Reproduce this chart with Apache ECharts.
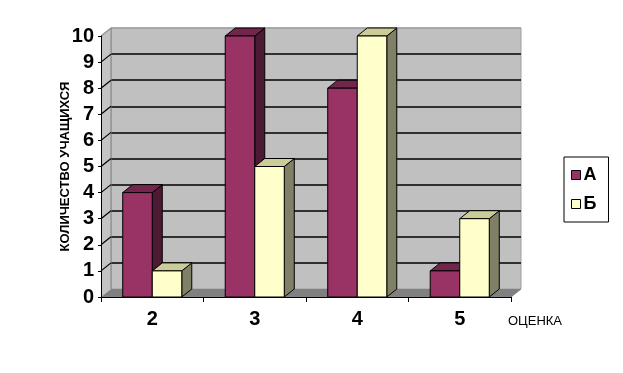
<!DOCTYPE html>
<html><head><meta charset="utf-8">
<script src="https://cdn.jsdelivr.net/npm/echarts@6/dist/echarts.min.js"></script>
<style>html,body{margin:0;padding:0;background:#fff}#c{width:623px;height:373px}</style>
</head><body><div id="c"></div>
<script>
const categories = ['2', '3', '4', '5'];
const seriesA = [4, 10, 8, 1];
const seriesB = [1, 5, 10, 3];
const yTicks = [0, 1, 2, 3, 4, 5, 6, 7, 8, 9, 10];
const seriesNames = ['А', 'Б'];

const FONT = 'Arial, "Liberation Sans", sans-serif';
const DX = 10, DY = -8;
const faces = [
  { front: '#993366', side: '#4d1a33', top: '#73264d' },
  { front: '#ffffcc', side: '#808066', top: '#cccc99' }
];

function barRender(si) {
  return function (params, api) {
    const cat = api.value(0), val = api.value(1);
    const base = api.coord([cat, 0]);
    const top = api.coord([cat, val]);
    const band = api.size([1, 0])[0];
    const w = band * 0.288;
    const x0 = si === 0 ? base[0] - w : base[0];
    const x1 = x0 + w;
    const y0 = base[1], y1 = top[1];
    const f = faces[si];
    const st = { stroke: '#000', lineWidth: 1 };
    return {
      type: 'group',
      children: [
        { type: 'polygon', shape: { points: [[x1, y0], [x1, y1], [x1 + DX, y1 + DY], [x1 + DX, y0 + DY]] }, style: Object.assign({ fill: f.side }, st) },
        { type: 'polygon', shape: { points: [[x0, y1], [x1, y1], [x1 + DX, y1 + DY], [x0 + DX, y1 + DY]] }, style: Object.assign({ fill: f.top }, st) },
        { type: 'rect', shape: { x: x0, y: y1, width: w, height: y0 - y1 }, style: Object.assign({ fill: f.front }, st) }
      ]
    };
  };
}

function wallRender(params, api) {
  const cs = params.coordSys;
  const L = cs.x, R = cs.x + cs.width, T = cs.y, B = cs.y + cs.height;
  const children = [
    { type: 'polygon', shape: { points: [[L, B], [L, T], [L + DX, T + DY], [L + DX, B + DY]] }, style: { fill: '#c4c4c4', stroke: null } },
    { type: 'polygon', shape: { points: [[L, B], [R, B], [R + DX, B + DY], [L + DX, B + DY]] }, style: { fill: '#808080', stroke: null } },
    { type: 'line', shape: { x1: L + DX, y1: T + DY, x2: L + DX, y2: B + DY }, style: { stroke: '#808080', lineWidth: 1 } },
    { type: 'line', shape: { x1: R, y1: B, x2: R + DX, y2: B + DY }, style: { stroke: '#808080', lineWidth: 1 } }
  ];
  yTicks.forEach(function (v, i) {
    const y = api.coord([0, v])[1];
    if (i > 0) {
      children.push({ type: 'line', shape: { x1: L, y1: y, x2: L + DX, y2: y + DY },
        style: { stroke: i === yTicks.length - 1 ? '#909090' : '#000', lineWidth: 1.2 } });
    }
  });
  return { type: 'group', children: children };
}

const splitColors = yTicks.map(function (v, i) {
  return i === 0 ? 'rgba(0,0,0,0)' : (i === yTicks.length - 1 ? '#a0a0a0' : '#000');
});

const chart = echarts.init(document.getElementById('c'), null, { renderer: 'canvas' });
chart.setOption({
  backgroundColor: '#fff',
  animation: false,
  textStyle: { fontFamily: FONT },
  grid: [
    { left: 101, right: 112, top: 36, bottom: 76, containLabel: false },
    { left: 111, right: 102, top: 28, bottom: 84, show: true, backgroundColor: '#c0c0c0', borderColor: '#a0a0a0', borderWidth: 1, z: 0 }
  ],
  xAxis: [
    { type: 'category', gridIndex: 0, data: categories, boundaryGap: true,
      axisLine: { show: true, lineStyle: { color: '#000', width: 1 } },
      axisTick: { show: true, length: 5, lineStyle: { color: '#000' } },
      axisLabel: { color: '#000', fontFamily: FONT, fontWeight: 'bold', fontSize: 20, margin: 12 },
      name: 'ОЦЕНКА', nameLocation: 'end', nameGap: -3,
      nameTextStyle: { color: '#000', fontFamily: FONT, fontSize: 13, align: 'left', verticalAlign: 'top', padding: [18, 0, 0, 0] },
      z: 5 },
    { type: 'category', gridIndex: 1, data: categories, show: false }
  ],
  yAxis: [
    { type: 'value', gridIndex: 0, min: 0, max: 10, interval: 1,
      axisLine: { show: true, lineStyle: { color: '#000', width: 1 } },
      axisTick: { show: true, length: 3, lineStyle: { color: '#000' } },
      axisLabel: { color: '#000', fontFamily: FONT, fontWeight: 'bold', fontSize: 20, margin: 7 },
      splitLine: { show: false },
      name: 'КОЛИЧЕСТВО УЧАЩИХСЯ', nameLocation: 'middle', nameGap: 29, nameRotate: 90, nameMoveOverlap: false,
      nameTextStyle: { color: '#000', fontFamily: FONT, fontWeight: 'bold', fontSize: 13 },
      z: 5 },
    { type: 'value', gridIndex: 1, min: 0, max: 10, interval: 1,
      axisLine: { show: false }, axisTick: { show: false }, axisLabel: { show: false },
      splitLine: { show: true, lineStyle: { color: splitColors, width: 1.5 } } }
  ],
  legend: {
    orient: 'vertical', left: 564, top: 157,
    data: seriesNames,
    icon: 'rect', itemWidth: 9, itemHeight: 9, itemGap: 11,
    padding: [9, 12, 9, 7],
    borderColor: '#000', borderWidth: 1, backgroundColor: '#fff',
    itemStyle: { borderColor: '#000', borderWidth: 1 },
    textStyle: { color: '#000', fontFamily: FONT, fontWeight: 'bold', fontSize: 18, padding: [0, 0, 0, -2] },
    selectedMode: false
  },
  series: [
    { type: 'custom', name: '_walls', xAxisIndex: 0, yAxisIndex: 0, data: [[0, 0]], renderItem: wallRender, z: 1, silent: true },
    { type: 'custom', name: seriesNames[0], xAxisIndex: 0, yAxisIndex: 0,
      data: seriesA.map(function (v, i) { return [i, v]; }), encode: { x: 0, y: 1 },
      itemStyle: { color: faces[0].front }, renderItem: barRender(0), z: 3 },
    { type: 'custom', name: seriesNames[1], xAxisIndex: 0, yAxisIndex: 0,
      data: seriesB.map(function (v, i) { return [i, v]; }), encode: { x: 0, y: 1 },
      itemStyle: { color: faces[1].front }, renderItem: barRender(1), z: 4 }
  ]
});
</script></body></html>
